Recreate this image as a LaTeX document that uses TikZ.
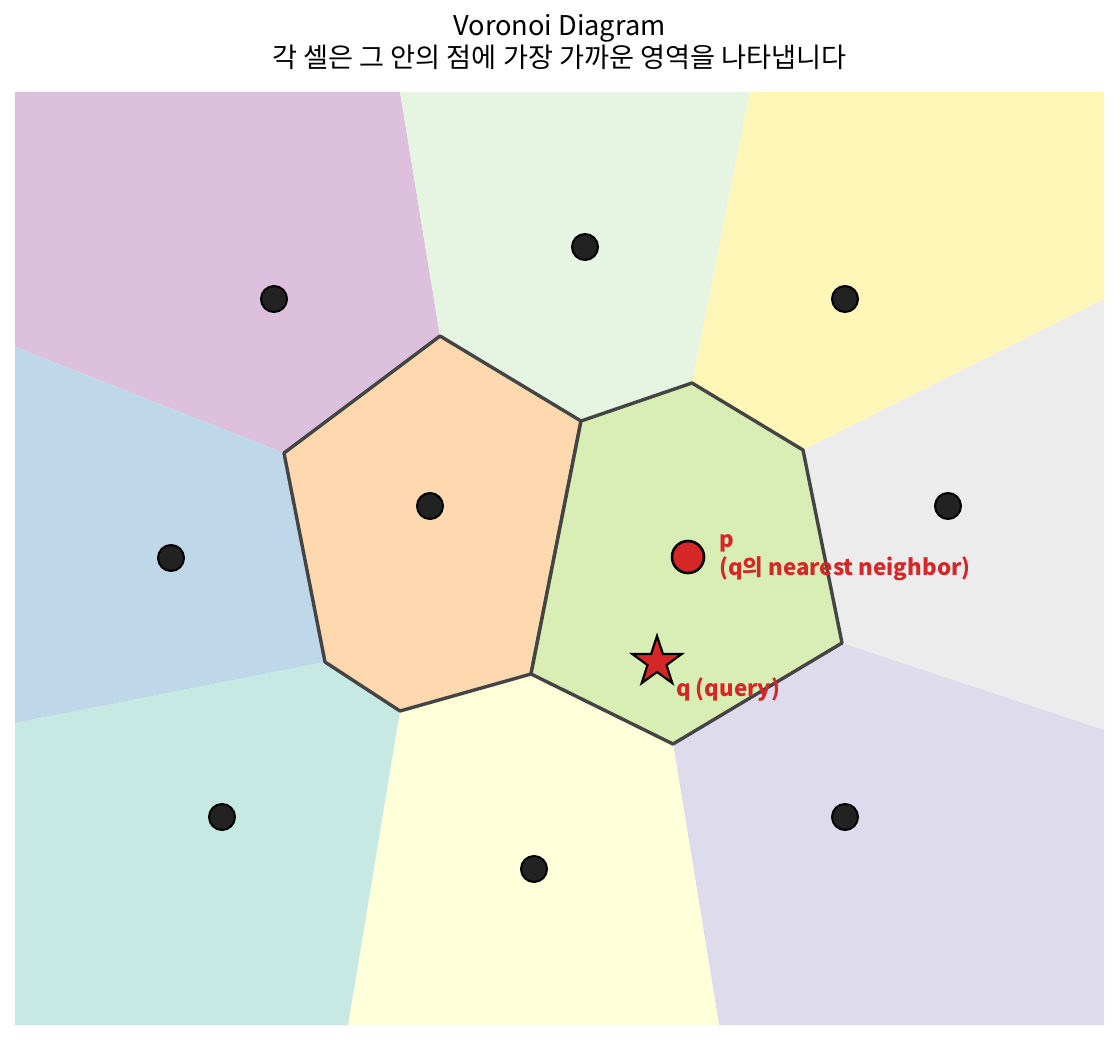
\documentclass[tikz,border=0pt]{standalone}
\usepackage{fontspec}
\setmainfont{Noto Sans CJK KR}
\usetikzlibrary{shapes.geometric}
\definecolor{cpurple}{HTML}{DDBFDE}
\definecolor{clgreen}{HTML}{E5F5E2}
\definecolor{cyellow}{HTML}{FFF6B7}
\definecolor{cgray}{HTML}{ECECEC}
\definecolor{clav}{HTML}{DEDCEC}
\definecolor{clyel}{HTML}{FFFFD9}
\definecolor{cteal}{HTML}{C6E9E3}
\definecolor{cblue}{HTML}{BFD8E9}
\definecolor{corange}{HTML}{FED9B0}
\definecolor{cgreen}{HTML}{D9EEB4}
\definecolor{edgegray}{HTML}{444444}
\definecolor{site}{HTML}{222222}
\definecolor{qred}{HTML}{D62728}
\tikzset{
  celledge/.style={draw=edgegray, line width=3.4pt, line join=round},
  sitedot/.style={circle, fill=site, draw=black, line width=2pt, minimum size=26pt, inner sep=0pt},
  pdot/.style={circle, fill=qred, draw=black, line width=2.6pt, minimum size=32pt, inner sep=0pt},
  qstar/.style={star, star points=5, star point ratio=2.6, fill=qred, draw=black, line width=2.2pt, minimum size=52pt, inner sep=0pt},
  lbl/.style={text=qred, font=\bfseries\fontsize{22.3}{28}\selectfont, align=left, inner sep=0pt}
}
\begin{document}
\begin{tikzpicture}[x=1pt,y=-1pt]
\useasboundingbox (0,0) rectangle (1119,1040);
% outer cells
\fill[cpurple] (15,92) -- (400,92) -- (440,336) -- (284,453) -- (15,347) -- cycle;
\fill[clgreen] (400,92) -- (750,92) -- (692,383) -- (581,421) -- (440,336) -- cycle;
\fill[cyellow] (750,92) -- (1104,92) -- (1104,299) -- (803,450) -- (692,383) -- cycle;
\fill[cgray] (1104,299) -- (1104,730) -- (842,643) -- (803,450) -- cycle;
\fill[clav] (1104,730) -- (1104,1025) -- (719,1025) -- (673,744) -- (842,643) -- cycle;
\fill[clyel] (719,1025) -- (348,1025) -- (400,711) -- (531,674) -- (673,744) -- cycle;
\fill[cteal] (348,1025) -- (15,1025) -- (15,723) -- (325,662) -- (400,711) -- cycle;
\fill[cblue] (15,723) -- (15,347) -- (284,453) -- (325,662) -- cycle;
% inner cells
\filldraw[fill=corange, celledge] (440,336) -- (581,421) -- (531,674) -- (400,711) -- (325,662) -- (284,453) -- cycle;
\filldraw[fill=cgreen, celledge] (581,421) -- (692,383) -- (803,450) -- (842,643) -- (673,744) -- (531,674) -- cycle;
% sites
\node[sitedot] (s1) at (274,299) {};
\node[sitedot] (s2) at (585,247) {};
\node[sitedot] (s3) at (845,299) {};
\node[sitedot] (s4) at (948,506) {};
\node[sitedot] (s5) at (845,817) {};
\node[sitedot] (s6) at (534,869) {};
\node[sitedot] (s7) at (222,817) {};
\node[sitedot] (s8) at (171,558) {};
\node[sitedot] (s9) at (430,506) {};
\node[pdot] (p) at (688,557) {};
\node[qstar] (q) at (657,662) {};
% labels
\node[lbl, anchor=west] (plbl) at (719,558) {p\\(q의 nearest neighbor)};
\node[lbl, anchor=west] (qlbl) at (676,690) {q (query)};
% title
\node[font=\fontsize{27.2}{32}\selectfont, align=center, inner sep=0pt] (title) at (559.5,42) {Voronoi Diagram\\각 셀은 그 안의 점에 가장 가까운 영역을 나타냅니다};
\end{tikzpicture}
\end{document}
